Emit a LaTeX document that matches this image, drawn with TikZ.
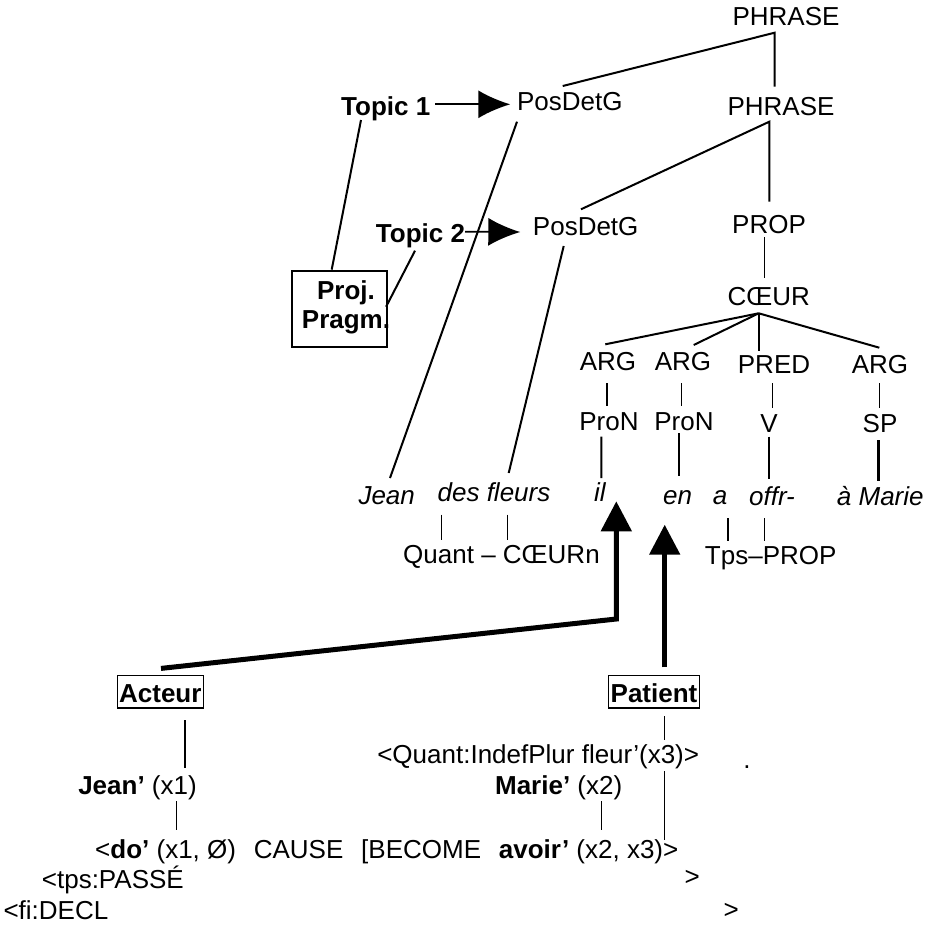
\documentclass[tikz,border=0pt]{standalone}
\usepackage{fontspec}
\setmainfont{Liberation Sans}
\usetikzlibrary{arrows.meta}
\newcommand{\dsp}{\hspace{17.8pt}}
\begin{document}
\begin{tikzpicture}[x=1pt,y=-1pt,
  every node/.style={inner sep=0pt, font=\fontsize{26}{29.3}\selectfont},
  lbl/.style={anchor=base},
  bold/.style={font=\fontsize{26}{29.3}\selectfont\bfseries},
  tl/.style={line width=2pt},
  tn/.style={line width=1.2pt},
  bx/.style={draw, line width=1.2pt, font=\fontsize{26}{29.3}\selectfont\bfseries,
    inner xsep=1.8pt, inner ysep=0pt, text height=27pt, text depth=5.7pt, anchor=base},
  thickarrow/.style={line width=5pt, -{Triangle[length=30pt,width=30pt]}},
  topicarrow/.style={line width=1.8pt, -{Latex[length=32pt,width=28pt]}},
]
\useasboundingbox (0,0) rectangle (925,927);
% tree nodes
\node[lbl] (ph1) at (786,25) {PHRASE};
\node[lbl] (ph2) at (781,115) {PHRASE};
\node[lbl] (pd1) at (569.8,110) {PosDetG};
\node[lbl] (pd2) at (585.7,235) {PosDetG};
\node[lbl] (prop) at (769,233.3) {PROP};
\node[lbl] (coeur) at (768.7,305) {CŒUR};
\node[lbl] (arg1) at (608,370) {ARG};
\node[lbl] (arg2) at (683,370) {ARG};
\node[lbl] (pred) at (774,373.3) {PRED};
\node[lbl] (arg4) at (880,373.3) {ARG};
\node[lbl] (pron1) at (609,430) {ProN};
\node[lbl] (pron2) at (684,430) {ProN};
\node[lbl] (v) at (769,432.7) {V};
\node[lbl] (sp) at (880,432.7) {SP};
\node[lbl] (jean) at (386.7,504.7) {\itshape Jean};
\node[lbl] (fleurs) at (494,501.3) {\itshape des fleurs};
\node[lbl] (il) at (599.9,501.3) {\itshape il};
\node[lbl] (en) at (677.5,504.7) {\itshape en};
\node[lbl] (a) at (720,504.7) {\itshape a};
\node[lbl] (offr) at (772,505) {\itshape offr-};
\node[lbl] (amarie) at (880.3,505) {\itshape à Marie};
\node[lbl] (qc) at (501.5,563) {Quant – CŒURn};
\node[lbl] (tp) at (770.7,564.7) {Tps–PROP};
% topics
\node[lbl, bold] (t1) at (385.7,115) {Topic 1};
\node[lbl, bold] (t2) at (420.5,242.7) {Topic 2};
\node[draw, line width=2.2pt, minimum width=94.4pt, minimum height=76pt] (projbox) at (339.5,308.7) {};
\node[align=center, bold] (proj) at (346,307.1) {Proj.\\Pragm.};
% semantic part
\node[bx] (act) at (160.3,702.3) {Acteur};
\node[bx] (pat) at (654,702.3) {Patient};
\node[lbl] (qi) at (538.2,763) {<Quant:IndefPlur fleur’(x3)>};
\node[lbl] (dot) at (747,768) {.};
\node[lbl] (jx1) at (137.5,794.7) {\textbf{Jean’} (x1)};
\node[lbl] (mx2) at (558.7,794.7) {\textbf{Marie’} (x2)};
\node[anchor=base west] (do) at (95,858) {<\textbf{do’} (x1, Ø)\dsp CAUSE\dsp [BECOME\dsp \textbf{avoir’} (x2, x3)>};
\node[anchor=base west] (tps) at (41.7,888) {<tps:PASSÉ};
\node[lbl] (gt1) at (692.3,885.7) {>};
\node[anchor=base west] (fi) at (3.3,919) {<fi:DECL};
\node[lbl] (gt2) at (731.2,918) {>};
% tree connectors
\draw[tl] ([shift={(-7.1,-24)}]pd1.base) -- ([shift={(-11.3,7.7)}]ph1.base) -- ([shift={(-6.3,-28.3)}]ph2.base);
\draw[tl] ([shift={(-4.7,-25.7)}]pd2.base) -- ([shift={(-11.7,6.7)}]ph2.base) -- ([shift={(0.3,-31.6)}]prop.base);
\draw[tn] ([shift={(-4.7,4)}]prop.base) -- ([shift={(-4.4,-26.7)}]coeur.base);
\draw[tl] ([shift={(-10,8.3)}]coeur.base) -- ([shift={(-2.7,-25.7)}]arg1.base);
\draw[tl] ([shift={(-10,8.3)}]coeur.base) -- ([shift={(10.7,-25)}]arg2.base);
\draw[tl] ([shift={(-10,8.3)}]coeur.base) -- ([shift={(-15.3,-22.6)}]pred.base);
\draw[tl] ([shift={(-10,8.3)}]coeur.base) -- ([shift={(-0.7,-25.6)}]arg4.base);
\draw[tn] ([shift={(-1,13.3)}]arg1.base) -- ([shift={(-2,-24)}]pron1.base);
\draw[tn] ([shift={(-1.7,13.3)}]arg2.base) -- ([shift={(-2.7,-24)}]pron2.base);
\draw[tn] ([shift={(-1.3,9.7)}]pred.base) -- ([shift={(3.7,-24.7)}]v.base);
\draw[tn] ([shift={(-0.7,9.7)}]arg4.base) -- ([shift={(-0.7,-24.7)}]sp.base);
\draw[tl] ([shift={(-7.7,6.7)}]pron1.base) -- ([shift={(1.4,-23.3)}]il.base);
\draw[tl] ([shift={(-5.3,3)}]pron2.base) -- ([shift={(1.2,-28.4)}]en.base);
\draw[tl] ([shift={(-0.3,4)}]v.base) -- ([shift={(-3.3,-26)}]offr.base);
\draw[line width=2.5pt] ([shift={(-1.3,7.3)}]sp.base) -- ([shift={(-1.6,-23.7)}]amarie.base);
\draw[tl] ([shift={(-52.8,11.7)}]pd1.base) -- ([shift={(3.3,-26.7)}]jean.base);
\draw[tl] ([shift={(-22,11)}]pd2.base) -- ([shift={(14.7,-28.3)}]fleurs.base);
\draw[tn] ([shift={(-52.3,13.4)}]fleurs.base) -- ([shift={(-59.8,-23.3)}]qc.base);
\draw[tn] ([shift={(13.7,13.4)}]fleurs.base) -- ([shift={(6.2,-23.3)}]qc.base);
\draw[tn] ([shift={(8,13.3)}]a.base) -- ([shift={(-42.7,-23.4)}]tp.base);
\draw[tn] ([shift={(-7.3,13)}]offr.base) -- ([shift={(-6,-23.4)}]tp.base);
% topic connectors
\draw[topicarrow] ([shift={(49.3,-10.7)}]t1.base) -- ([shift={(-59.5,-5.7)}]pd1.base);
\draw[topicarrow] ([shift={(44.5,-11)}]t2.base) -- ([shift={(-65.4,-3)}]pd2.base);
\draw[tl] ([shift={(-24.7,5)}]t1.base) -- ([shift={(-7.8,0)}]projbox.north);
\draw[tl] ([shift={(-5.5,8)}]t2.base) -- ([shift={(-1.7,-2)}]projbox.east);
% thick arrows
\draw[thickarrow] ([shift={(0.7,-6.3)}]act.north) -- ([shift={(16.4,117.7)}]il.base) -- ([shift={(16.4,0)}]il.base);
\draw[thickarrow] ([shift={(10.7,-7.3)}]pat.north) -- ([shift={(-12.8,20)}]en.base);
% semantic connectors
\draw[tn] ([shift={(24.7,11.7)}]act.south) -- ([shift={(47.5,-26.7)}]jx1.base);
\draw[tn] ([shift={(39.2,6.6)}]jx1.base) -- ([shift={(81.7,-28.3)}]do.base west);
\draw[tn] ([shift={(10.7,7.7)}]pat.south) -- ([shift={(126.5,-23.3)}]qi.base);
\draw[tn] ([shift={(126.5,8.3)}]qi.base) -- ([shift={(569.7,-18.3)}]do.base west);
\draw[tn] ([shift={(42.6,6.6)}]mx2.base) -- ([shift={(506.3,-28.3)}]do.base west);
\end{tikzpicture}
\end{document}
